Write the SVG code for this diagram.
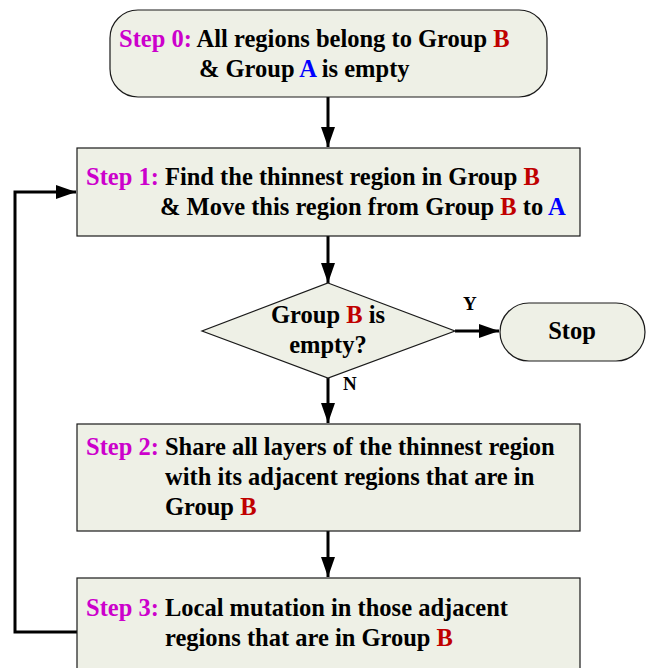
<svg xmlns="http://www.w3.org/2000/svg" width="647" height="668" viewBox="0 0 647 668">
<defs>
<style>
.box{fill:#eef0e6;stroke:#1a1a1a;stroke-width:1.2}
.t{font-family:"Liberation Serif","Times New Roman",serif;font-weight:bold;font-size:24.5px;fill:#000}
.s{fill:#cc00cc}
.r{fill:#c00000}
.b{fill:#0000ff}
.ln{fill:none;stroke:#000;stroke-width:3}
.lb{font-family:"Liberation Serif","Times New Roman",serif;font-weight:bold;font-size:19px;fill:#000}
</style>
<marker id="ahh" markerWidth="20" markerHeight="14" refX="20" refY="7" orient="auto" markerUnits="userSpaceOnUse" viewBox="0 0 20 14">
<path d="M0,0 L20,7 L0,14 z" fill="#000"/>
</marker>
</defs>
<g id="connectors">
<line class="ln" x1="328" y1="97" x2="328" y2="147" marker-end="url(#ahh)"/>
<line class="ln" x1="328" y1="236" x2="328" y2="283" marker-end="url(#ahh)"/>
<line class="ln" x1="328" y1="378" x2="328" y2="423" marker-end="url(#ahh)"/>
<line class="ln" x1="328" y1="531" x2="328" y2="577" marker-end="url(#ahh)"/>
<line class="ln" x1="455" y1="331" x2="499" y2="331" marker-end="url(#ahh)"/>
<polyline class="ln" points="77,632 15,632 15,192 76,192" marker-end="url(#ahh)"/>
<text class="lb" x="463" y="310">Y</text>
<text class="lb" x="343" y="390">N</text>
</g>
<g id="step0">
<rect class="box" x="110" y="10" width="437" height="87" rx="28" ry="28"/>
<text class="t" x="119" y="47"><tspan class="s">Step 0:</tspan> All regions belong to Group <tspan class="r">B</tspan></text>
<text class="t" x="199" y="77">&amp; Group <tspan class="b">A</tspan> is empty</text>
</g>
<g id="step1">
<rect class="box" x="77" y="148" width="503" height="88"/>
<text class="t" x="86" y="185"><tspan class="s">Step 1:</tspan> Find the thinnest region in Group <tspan class="r">B</tspan></text>
<text class="t" x="160" y="215">&amp; Move this region from Group <tspan class="r">B</tspan> to <tspan class="b">A</tspan></text>
</g>
<g id="decision">
<polygon class="box" points="328,283 455,331 328,378 202,331"/>
<text class="t" x="328" y="323" text-anchor="middle">Group <tspan class="r">B</tspan> is</text>
<text class="t" x="328" y="353" text-anchor="middle">empty?</text>
</g>
<g id="stop">
<rect class="box" x="500" y="303" width="145" height="58" rx="29" ry="29"/>
<text class="t" x="572" y="339" text-anchor="middle">Stop</text>
</g>
<g id="step2">
<rect class="box" x="77" y="424" width="503" height="107"/>
<text class="t" x="86" y="455"><tspan class="s">Step 2:</tspan> Share all layers of the thinnest region</text>
<text class="t" x="165" y="485">with its adjacent regions that are in</text>
<text class="t" x="165" y="515">Group <tspan class="r">B</tspan></text>
</g>
<g id="step3">
<rect class="box" x="77" y="578" width="503" height="100"/>
<text class="t" x="86" y="616"><tspan class="s">Step 3:</tspan> Local mutation in those adjacent</text>
<text class="t" x="165" y="646">regions that are in Group <tspan class="r">B</tspan></text>
</g>
</svg>
